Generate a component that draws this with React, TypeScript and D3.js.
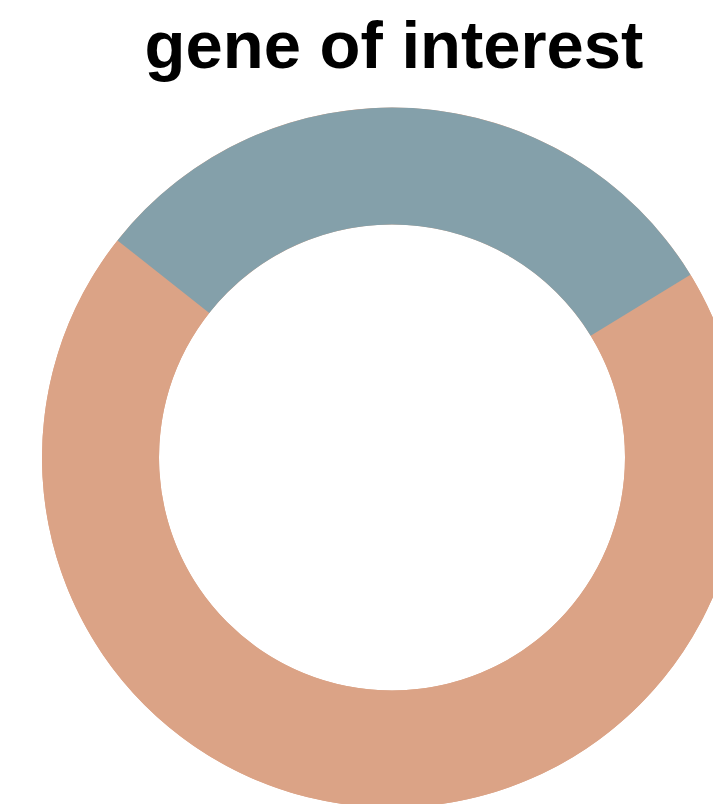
import React from "react";
import * as d3 from "d3";

const categories = ["other", "gene of interest"];
const values = [69.4, 30.6];
const colors = ["#DBA386", "#84A0AA"];
const title = "gene of interest";

export default function App() {
  const W = 713, H = 804;
  const cx = 392, cy = 457.5, R = 350, r = 233;
  const blueStart = (58.5 * Math.PI) / 180;
  const pie = d3.pie<number>().sort(null).value((d) => d)
    .startAngle(blueStart).endAngle(blueStart + 2 * Math.PI);
  const arcs = pie(values);
  const arc = d3.arc<d3.PieArcDatum<number>>().innerRadius(r).outerRadius(R);
  const full = d3.arc()({ innerRadius: r, outerRadius: R, startAngle: 0, endAngle: 2 * Math.PI } as any) as string;
  return (
    <svg width={W} height={H} style={{ position: "absolute", left: 0, top: 0 }}>
      <g transform={`translate(${cx},${cy})`}>
        <path d={full} fill={colors[0]} />
        {arcs.map((a, i) => (
          <path key={categories[i]} d={arc(a) as string} fill={colors[i]} />
        ))}
      </g>
      <text x={394} y={68} textAnchor="middle" fontFamily="Liberation Sans, Arial, sans-serif"
        fontWeight="bold" fontSize={67} fill="#000">{title}</text>
    </svg>
  );
}
